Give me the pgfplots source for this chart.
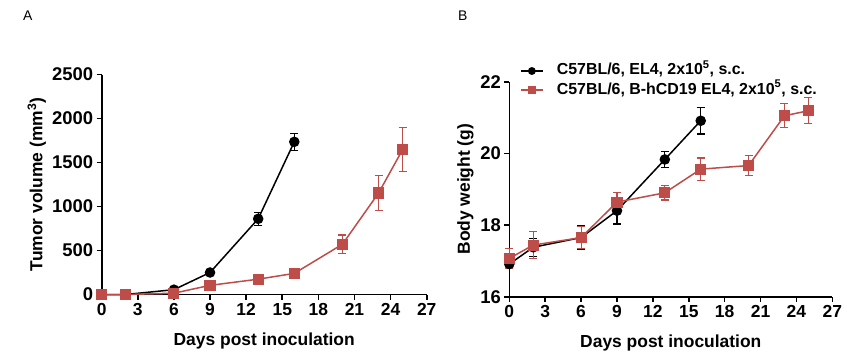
\documentclass[border=0pt]{standalone}
\usepackage{pgfplots}
\pgfplotsset{compat=1.18}
\usepackage{fontspec}
\setmainfont{Liberation Sans}
\definecolor{myred}{RGB}{190,76,73}

\pgfplotsset{
  myaxis/.style={
    scale only axis,
    axis lines*=left,
    axis line style={line width=1.6bp},
    tick style={line width=1.6bp, black},
    tick align=outside,
    major tick length=5bp,
    xmin=0, xmax=27,
    xtick={0,3,...,27},
    clip=false,
    hide obscured x ticks=false,
    hide obscured y ticks=false,
    xticklabel style={font=\fontsize{17.5}{17.5}\selectfont\bfseries},
    yticklabel style={font=\fontsize{18.5}{18.5}\selectfont\bfseries},
    /pgf/number format/assume math mode=true,
    /pgf/number format/1000 sep={},
    label style={font=\fontsize{17.5}{17.5}\selectfont\bfseries},
    xlabel={Days post inoculation},
    xlabel style={at={(axis description cs:0.5,0)}, anchor=center, yshift=-46bp},
  },
  blk/.style={black, line width=1.5bp, mark=*, mark size=4.5bp,
    mark options={solid},
    error bars/.cd, y dir=both, y explicit,
    error bar style={line width=1.1bp, black},
    error mark options={rotate=90, mark size=4bp, line width=1.1bp, black}},
  red/.style={myred, line width=1.5bp, mark=square*, mark size=4.8bp,
    mark options={solid},
    error bars/.cd, y dir=both, y explicit,
    error bar style={line width=1.1bp, myred},
    error mark options={rotate=90, mark size=4bp, line width=1.1bp, myred}},
}

\pgfplotstableread{
x y e
0 0 0
2 0 0
6 55 10
9 250 20
13 860 75
16 1735 95
}\Ablk
\pgfplotstableread{
x y e
0 0 0
2 0 0
6 15 10
9 104 25
13 174 20
16 240 25
20 571 105
23 1153 200
25 1647 252
}\Ared
\pgfplotstableread{
x y e
0 16.91 0.05
2 17.38 0.25
6 17.65 0.33
9 18.40 0.37
13 19.83 0.23
16 20.91 0.37
}\Bblk
\pgfplotstableread{
x y e
0 17.07 0.28
2 17.44 0.37
6 17.65 0.30
9 18.64 0.28
13 18.90 0.20
16 19.56 0.31
20 19.66 0.28
23 21.05 0.33
25 21.19 0.36
}\Bred

\begin{document}
\begin{tikzpicture}[x=1bp,y=1bp]
\useasboundingbox (0,0) rectangle (847,356);
\node[anchor=base west, font=\fontsize{14}{14}\selectfont, inner sep=0pt] at (23,336) {A};
\node[anchor=base west, font=\fontsize{14}{14}\selectfont, inner sep=0pt] at (458,336) {B};

\begin{axis}[myaxis,
  at={(101.7bp,61.5bp)}, anchor=south west,
  width=325bp, height=220bp,
  ymin=0, ymax=2500, ytick={0,500,...,2500},
  ylabel={Tumor volume (mm\textsuperscript{3})},
  ylabel style={at={(axis description cs:-0.2,0.5)}, anchor=center},
]
\addplot[blk] table[x=x, y=y, y error=e] {\Ablk};
\addplot[red] table[x=x, y=y, y error=e] {\Ared};
\end{axis}

\begin{axis}[myaxis,
  at={(509.3bp,59.3bp)}, anchor=south west,
  width=323bp, height=215bp,
  ymin=16, ymax=22, ytick={16,18,20,22},
  ylabel={Body weight (g)},
  ylabel style={at={(axis description cs:-0.136,0.5)}, anchor=center},
  legend style={draw=none, fill=none, inner sep=0pt, outer sep=0pt,
    at={(axis description cs:0.033,1.087)}, anchor=north west,
    row sep=3bp, column sep=13bp,
    nodes={inner sep=0pt, text height=12bp, text depth=4bp,
      font=\fontsize{16}{16}\selectfont\bfseries}},
  legend cell align=left,
  legend image code/.code={
    \draw[mark repeat=2, mark phase=2, mark size=3bp, line width=1.8bp]
      plot coordinates {(0bp,0bp) (11bp,0bp) (22bp,0bp)};},
]
\addplot[blk] table[x=x, y=y, y error=e] {\Bblk};
\addplot[red] table[x=x, y=y, y error=e] {\Bred};
\legend{{C57BL/6, EL4, 2x10\textsuperscript{5}, s.c.},
        {C57BL/6, B-hCD19 EL4, 2x10\textsuperscript{5}, s.c.}}
\end{axis}
\end{tikzpicture}
\end{document}
